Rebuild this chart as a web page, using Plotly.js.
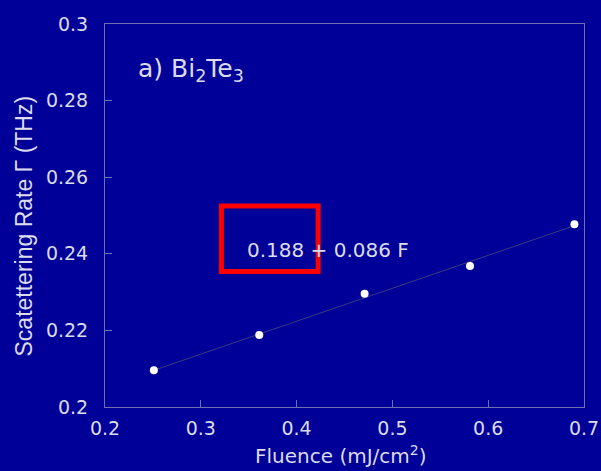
<!DOCTYPE html>
<html>
<head>
<meta charset="utf-8">
<script src="https://cdn.plot.ly/plotly-3.0.1.min.js"></script>
<style>html,body{margin:0;padding:0;background:#000099;}</style>
</head>
<body>
<div id="chart" style="width:601px;height:471px;"></div>
<script>
const fluence = [0.251, 0.361, 0.471, 0.581, 0.690];
const rate = [0.2096, 0.2188, 0.2296, 0.2368, 0.2477];
const fitIntercept = 0.188;
const fitSlope = 0.086;
const xTicks = [0.2, 0.3, 0.4, 0.5, 0.6, 0.7];
const xTickLabels = ['0.2', '0.3', '0.4', '0.5', '0.6', '0.7'];
const yTicks = [0.2, 0.22, 0.24, 0.26, 0.28, 0.3];
const yTickLabels = ['0.2', '0.22', '0.24', '0.26', '0.28', '0.3'];

const fitX = [Math.min(...fluence), Math.max(...fluence)];
const fitY = fitX.map(f => fitIntercept + fitSlope * f);

const textColor = '#dcdcec';
const axisColor = '#7070b0';
const wide = 'DejaVu Sans, sans-serif';
const narrow = 'Liberation Sans, Arial, sans-serif';

const data = [
  {x: fitX, y: fitY, mode: 'lines', line: {color: '#3a3a80', width: 1}, hoverinfo: 'skip'},
  {x: fluence, y: rate, mode: 'markers', marker: {color: '#ffffff', size: 8}}
];

const layout = {
  width: 601, height: 471,
  paper_bgcolor: '#000099', plot_bgcolor: '#000099',
  margin: {l: 105, r: 17, t: 24, b: 64},
  showlegend: false,
  font: {family: narrow, color: textColor, size: 20},
  xaxis: {
    range: [0.2, 0.7], tickvals: xTicks, ticktext: xTickLabels,
    ticks: 'inside', ticklen: 7, tickcolor: axisColor, tickwidth: 1,
    showline: true, linecolor: axisColor, linewidth: 1, mirror: true,
    showgrid: false, zeroline: false,
    tickfont: {family: wide, size: 19, color: textColor},
    ticklabelstandoff: 4
  },
  yaxis: {
    range: [0.2, 0.3], tickvals: yTicks, ticktext: yTickLabels,
    ticks: 'inside', ticklen: 7, tickcolor: axisColor, tickwidth: 1,
    showline: true, linecolor: axisColor, linewidth: 1, mirror: true,
    showgrid: false, zeroline: false,
    tickfont: {family: wide, size: 19, color: textColor},
    ticklabelstandoff: 12
  },
  annotations: [
    {xref: 'paper', yref: 'paper', x: 0, y: 0.5, xanchor: 'center', yanchor: 'middle',
     xshift: -82, yshift: -11, textangle: -90,
     text: 'Scatettering Rate Γ (THz)', showarrow: false, font: {family: narrow, size: 23, color: textColor}},
    {xref: 'paper', yref: 'paper', x: 0.5, y: 0, xanchor: 'center', yanchor: 'middle',
     xshift: -4, yshift: -48,
     text: 'Fluence (mJ/cm<sup>2</sup>)', showarrow: false, font: {family: wide, size: 20, color: textColor}},
    {xref: 'paper', yref: 'paper', x: 0.065, y: 0.88, xanchor: 'left', yanchor: 'middle',
     text: 'a) Bi<sub>2</sub>Te<sub>3</sub>', showarrow: false, font: {family: wide, size: 25, color: textColor}},
    {xref: 'x', yref: 'y', x: 0.3465, y: 0.2409, xanchor: 'left', yanchor: 'middle',
     text: '0.188 + 0.086 F', showarrow: false, font: {family: wide, size: 20, color: textColor}}
  ],
  shapes: [
    {type: 'rect', xref: 'x', yref: 'y', x0: 0.3215, x1: 0.4225, y0: 0.2354, y1: 0.2525,
     line: {color: '#ff0000', width: 5}, layer: 'above'}
  ]
};

Plotly.newPlot('chart', data, layout, {displayModeBar: false, staticPlot: true});
</script>
</body>
</html>
